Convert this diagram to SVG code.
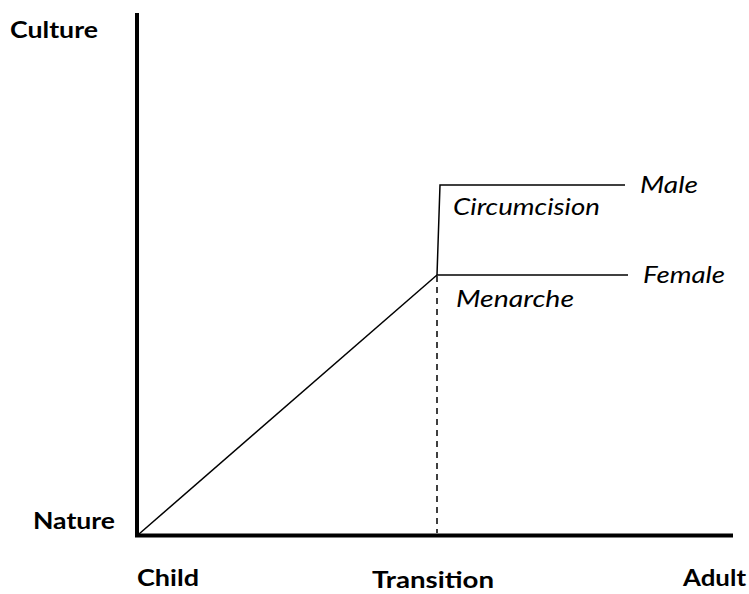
<svg xmlns="http://www.w3.org/2000/svg" width="749" height="594" viewBox="0 0 749 594">
<style>
.b{font-family:Lato,"Open Sans",sans-serif;font-weight:bold;font-size:23px;fill:#000}
.i{font-family:Lato,"Open Sans",sans-serif;font-style:italic;font-size:23px;fill:#000}
.ax{stroke:#000;stroke-width:4;fill:none}
.ln{stroke:#000;stroke-width:1.5;fill:none}
</style>
<rect width="749" height="594" fill="#fff"/>
<g id="axes">
<path class="ax" d="M137,13 V535.5 H733"/>
</g>
<g id="connectors">
<path class="ln" d="M139,534 L437,275"/>
<path class="ln" d="M437,275 L440,185 H625"/>
<path class="ln" d="M437,275 H628"/>
<path class="ln" d="M437,276 V533" stroke-dasharray="6,5"/>
</g>
<g id="labels">
<text class="b" x="10" y="38" textLength="88" lengthAdjust="spacingAndGlyphs">Culture</text>
<text class="b" x="33" y="529" textLength="82" lengthAdjust="spacingAndGlyphs">Nature</text>
<text class="b" x="137" y="586" textLength="62" lengthAdjust="spacingAndGlyphs">Child</text>
<text class="b" x="372" y="588" textLength="122" lengthAdjust="spacingAndGlyphs">Transition</text>
<text class="b" x="683" y="586" textLength="63" lengthAdjust="spacingAndGlyphs">Adult</text>
</g>
<g id="node-male"><text class="i" x="640" y="193" textLength="58" lengthAdjust="spacingAndGlyphs">Male</text></g>
<g id="node-circumcision"><text class="i" x="453" y="215" textLength="147" lengthAdjust="spacingAndGlyphs">Circumcision</text></g>
<g id="node-female"><text class="i" x="643" y="283" textLength="82" lengthAdjust="spacingAndGlyphs">Female</text></g>
<g id="node-menarche"><text class="i" x="456" y="307" textLength="118" lengthAdjust="spacingAndGlyphs">Menarche</text></g>
</svg>
